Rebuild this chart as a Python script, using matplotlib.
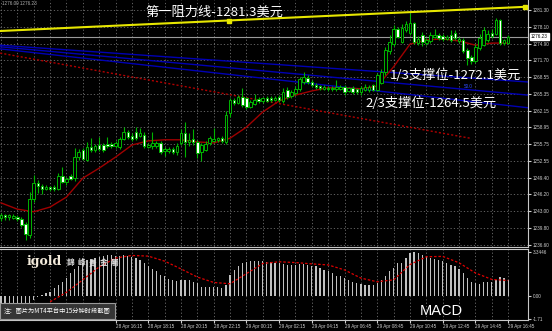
import numpy as np
import matplotlib.pyplot as plt
from matplotlib.transforms import blended_transform_factory

plt.rcParams["font.family"] = ["Noto Sans CJK SC", "DejaVu Sans"]

# 15-minute candles (oldest first)
opens = [
    1241.7, 1242.3, 1241.9, 1241.8, 1242.0, 1241.6, 1240.5, 1238.5, 1245.4, 1248.4,
    1247.8, 1247.3, 1247.6, 1247.7, 1247.2, 1249.7, 1248.6, 1249.8, 1249.3, 1253.3,
    1254.6, 1252.8, 1255.2, 1254.6, 1255.7, 1255.6, 1255.8, 1255.8, 1255.4, 1255.2,
    1256.7, 1258.1, 1257.4, 1258.1, 1257.4, 1257.6, 1255.3, 1255.4, 1255.5, 1256.0,
    1254.4, 1254.5, 1254.9, 1254.2, 1256.0, 1257.8, 1256.2, 1256.8, 1256.2, 1254.3,
    1254.6, 1256.0, 1256.4, 1256.5, 1256.9, 1256.1, 1261.7, 1264.2, 1263.6, 1264.8,
    1264.6, 1262.9, 1263.5, 1264.4, 1263.9, 1264.6, 1264.6, 1264.2, 1264.7, 1264.0,
    1266.1, 1264.9, 1265.5, 1266.3, 1267.6, 1268.4, 1267.6, 1267.1, 1266.8, 1266.3,
    1266.5, 1266.2, 1266.2, 1266.3, 1266.7, 1265.9, 1266.4, 1266.2, 1265.6, 1266.1,
    1266.0, 1267.0, 1266.0, 1267.4, 1269.5, 1273.5, 1274.9, 1277.7, 1275.3, 1277.5,
    1277.0, 1278.8, 1275.0, 1276.5, 1275.0, 1275.4, 1276.2, 1276.6, 1276.4, 1275.8,
    1276.5, 1276.9, 1275.4, 1275.5, 1273.7, 1272.3, 1271.5, 1274.0, 1274.7, 1275.5,
    1277.0, 1276.8, 1279.3, 1275.0, 1275.1,
]
highs = [
    1242.6, 1242.5, 1242.5, 1242.4, 1242.3, 1242.0, 1241.0, 1246.7, 1249.9, 1249.0,
    1248.1, 1248.0, 1247.9, 1248.0, 1250.3, 1251.4, 1249.5, 1250.1, 1255.1, 1254.8,
    1255.0, 1256.2, 1256.9, 1255.8, 1257.2, 1256.0, 1257.1, 1256.2, 1256.3, 1257.2,
    1259.0, 1258.4, 1257.8, 1259.0, 1258.9, 1258.0, 1256.0, 1258.0, 1256.3, 1256.3,
    1255.2, 1255.3, 1255.2, 1256.0, 1258.7, 1260.0, 1257.8, 1258.7, 1256.5, 1256.0,
    1256.4, 1257.4, 1258.8, 1257.2, 1257.3, 1262.0, 1264.6, 1264.6, 1265.1, 1266.5,
    1264.8, 1264.1, 1265.4, 1264.7, 1264.8, 1265.0, 1265.0, 1265.0, 1265.1, 1266.5,
    1266.6, 1266.1, 1266.8, 1268.5, 1269.5, 1268.9, 1268.0, 1267.4, 1267.1, 1267.0,
    1266.8, 1266.8, 1268.0, 1267.0, 1267.0, 1266.7, 1266.8, 1266.5, 1266.8, 1267.2,
    1267.0, 1267.3, 1269.3, 1270.0, 1274.3, 1276.5, 1278.4, 1278.0, 1278.6, 1279.2,
    1280.7, 1279.0, 1276.3, 1277.1, 1276.0, 1277.2, 1277.6, 1276.9, 1276.7, 1276.5,
    1277.5, 1277.5, 1276.1, 1276.0, 1274.0, 1272.8, 1274.8, 1276.8, 1278.0, 1277.5,
    1277.6, 1279.8, 1279.6, 1275.8, 1276.6,
]
lows = [
    1241.2, 1241.4, 1241.3, 1241.5, 1241.2, 1240.0, 1237.6, 1238.0, 1244.8, 1246.5,
    1246.3, 1247.0, 1246.8, 1246.9, 1247.0, 1248.3, 1248.0, 1248.9, 1248.8, 1252.8,
    1252.8, 1252.5, 1254.3, 1254.2, 1254.5, 1254.2, 1255.1, 1255.0, 1255.0, 1254.8,
    1256.5, 1256.8, 1256.3, 1256.6, 1257.1, 1255.0, 1255.0, 1254.8, 1255.1, 1253.9,
    1253.6, 1254.1, 1253.9, 1253.8, 1255.6, 1253.3, 1255.5, 1255.7, 1253.2, 1252.6,
    1254.4, 1255.7, 1256.2, 1256.2, 1256.0, 1255.8, 1261.0, 1263.2, 1263.4, 1262.8,
    1262.5, 1262.6, 1263.2, 1263.6, 1263.6, 1263.7, 1263.8, 1263.9, 1263.8, 1263.6,
    1264.4, 1264.5, 1265.2, 1265.9, 1267.2, 1267.2, 1266.6, 1266.2, 1266.1, 1266.0,
    1265.9, 1265.9, 1265.8, 1266.0, 1265.2, 1265.6, 1265.3, 1265.3, 1265.2, 1265.8,
    1265.7, 1265.8, 1265.8, 1267.2, 1269.0, 1273.0, 1274.5, 1275.9, 1275.0, 1277.2,
    1276.6, 1274.9, 1274.6, 1274.5, 1274.7, 1275.1, 1275.9, 1275.5, 1275.4, 1275.5,
    1275.2, 1275.6, 1275.0, 1273.2, 1270.9, 1271.0, 1271.2, 1273.6, 1274.4, 1275.2,
    1275.9, 1276.5, 1274.7, 1274.7, 1274.8,
]
closes = [
    1242.3, 1241.9, 1242.2, 1242.1, 1241.6, 1240.4, 1238.6, 1245.4, 1248.4, 1247.8,
    1247.3, 1247.6, 1247.2, 1247.3, 1249.7, 1248.6, 1249.2, 1249.2, 1253.3, 1254.3,
    1253.0, 1255.2, 1254.6, 1255.4, 1254.8, 1254.7, 1255.4, 1255.4, 1255.9, 1256.8,
    1258.0, 1257.2, 1256.7, 1257.0, 1257.9, 1255.5, 1255.6, 1255.9, 1256.0, 1254.3,
    1254.8, 1254.9, 1254.3, 1255.5, 1257.8, 1256.2, 1256.6, 1256.2, 1254.1, 1255.6,
    1255.8, 1256.9, 1256.8, 1256.9, 1256.4, 1261.4, 1264.2, 1263.6, 1264.8, 1263.2,
    1262.8, 1263.8, 1264.2, 1263.9, 1264.5, 1264.0, 1264.2, 1264.6, 1264.2, 1265.6,
    1264.8, 1265.7, 1266.2, 1268.2, 1268.6, 1267.6, 1267.0, 1266.6, 1266.4, 1266.7,
    1266.2, 1266.5, 1266.7, 1266.7, 1265.6, 1266.4, 1265.6, 1265.6, 1266.4, 1266.6,
    1266.6, 1266.1, 1268.9, 1269.5, 1273.7, 1275.3, 1277.7, 1276.2, 1277.9, 1278.6,
    1278.8, 1275.2, 1275.8, 1275.2, 1275.6, 1276.6, 1276.6, 1275.9, 1275.7, 1276.2,
    1275.5, 1275.9, 1275.8, 1273.5, 1272.2, 1271.5, 1274.3, 1276.0, 1277.5, 1276.8,
    1276.3, 1279.3, 1275.0, 1275.5, 1276.23,
]

# moving average (dark red), read every 4 bars
ma_bars = list(range(0, 125, 4))
ma_values = [
    1244.6, 1243.4, 1242.9, 1243.8, 1245.7, 1249.3, 1251.2, 1253.3, 1255.6, 1256.4,
    1256.6, 1256.6, 1256.2, 1256.0, 1256.9, 1259.0, 1261.9, 1264.0, 1265.1, 1265.9,
    1266.5, 1266.5, 1266.3, 1266.8, 1270.5, 1274.8, 1275.6, 1275.8, 1275.4, 1274.6,
    1275.0, 1275.0,
]

# MACD histogram and signal line
macd_hist = [
    -0.60, -0.60, -0.65, -0.65, -0.70, -0.75, -0.90, -0.60, -0.30, -0.10,
    0.05, 0.20, 0.33, 0.59, 0.85, 1.10, 1.36, 1.75, 2.06, 2.26,
    2.52, 2.73, 2.83, 2.91, 2.98, 3.03, 3.08, 3.08, 3.03, 3.03,
    3.08, 3.03, 2.98, 2.91, 2.73, 2.52, 2.31, 2.06, 1.88, 1.62,
    1.49, 1.29, 1.18, 1.16, 1.21, 1.23, 1.23, 1.10, 0.98, 0.72,
    0.67, 0.67, 0.67, 0.67, 0.59, 0.85, 1.62, 1.95, 2.26, 2.52,
    2.60, 2.65, 2.65, 2.65, 2.65, 2.60, 2.60, 2.52, 2.52, 2.44,
    2.39, 2.39, 2.39, 2.44, 2.44, 2.39, 2.31, 2.26, 2.13, 2.00,
    1.88, 1.75, 1.54, 1.49, 1.36, 1.23, 1.10, 0.98, 0.93, 0.85,
    0.85, 0.85, 0.98, 1.23, 1.49, 1.88, 2.13, 2.52, 2.52, 2.91,
    3.29, 3.34, 3.29, 3.08, 3.03, 2.91, 2.78, 2.73, 2.65, 2.52,
    2.39, 2.26, 2.06, 1.75, 1.36, 1.10, 0.98, 0.93, 1.03, 1.10,
    1.10, 1.23, 1.44, 1.36, 1.23,
]
signal_bars = list(range(12, 125, 4))
signal_values = [
    -0.44, 0.28, 1.23, 2.21, 2.88, 3.08, 3.03, 2.65, 2.06, 1.44,
    1.03, 0.93, 1.70, 2.47, 2.60, 2.54, 2.44, 2.36, 1.98, 1.36,
    1.08, 1.23, 2.39, 2.98, 3.01, 2.52, 1.75, 1.26, 1.18,
]

price_ticks = [1281.30, 1278.10, 1274.90, 1271.70, 1268.55, 1265.35, 1262.15, 1258.95,
               1255.75, 1252.55, 1249.40, 1246.20, 1243.00, 1239.80, 1236.60]
macd_ticks = [3.3446, 0.0, -1.71]
macd_tick_labels = ["3.3446", "0.00", "-1.71"]
time_label_bars = [28, 36, 44, 52, 60, 68, 76, 84, 92, 100, 108, 116, 124]
time_labels = ["28 Apr 16:15", "28 Apr 18:15", "28 Apr 20:15", "28 Apr 22:15",
               "29 Apr 00:15", "29 Apr 02:15", "29 Apr 04:15", "29 Apr 06:45",
               "29 Apr 08:45", "29 Apr 10:45", "29 Apr 12:45", "29 Apr 14:45",
               "29 Apr 16:45"]
last_price = 1276.23
logo_chars = ["錦", "峰", "貴", "金", "屬"]

# drawn objects (bar index, price)
resist_bars = [-0.24, 128.1]
resist_prices = [1277.3, 1281.9]
resist_anchor_bars = [55.7, 128.1]
resist_anchor_prices = [1279.2, 1281.9]
fan_bars = [-0.24, 128.85]
fan_a = [1274.6, 1267.6]
fan_b = [1274.3, 1265.1]
fan_c = [1273.9, 1262.7]
channel_bars = [-0.2, 114.7]
channel_prices = [1273.1, 1256.9]

W, H = 552, 331
GREEN = "#00b400"
GRID = "#707070"
AXIS = "#c8c8c8"
SMALL = ["Liberation Sans", "DejaVu Sans"]
SMALL_SIZE = 3.3


def fx(x):
    return x / W


def fy(y):
    return 1 - y / H


fig = plt.figure(figsize=(W / 100, H / 100), dpi=100, facecolor="black")
ax = fig.add_axes([0, (H - 247) / H, 528 / W, 247 / H], facecolor="black")
axm = fig.add_axes([0, (H - 320) / H, 528 / W, 71 / H], facecolor="black")

idx = np.arange(len(closes))
o = np.array(opens)
c = np.array(closes)
up = c >= o

# main chart
ax.axhline(last_price, color="#9a9a9a", lw=0.8, zorder=1)
ax.plot(fan_bars, fan_a, color="#0000b4", lw=1, zorder=2)
ax.plot(fan_bars, fan_b, color="#0000b4", lw=1, zorder=2)
ax.plot(fan_bars, fan_c, color="#0000b4", lw=1, zorder=2)
ax.plot(channel_bars, channel_prices, color="#b00000", lw=1, ls=(0, (1.5, 1.5)), zorder=2)
ax.plot(resist_bars, resist_prices, color="#e6e600", lw=1.5, zorder=3)
ax.plot(resist_anchor_bars, resist_anchor_prices, ls="none", marker="s", ms=2.5,
        color="#e6e600", zorder=3)
ax.plot(ma_bars, ma_values, color="#a00000", lw=1, zorder=3)

ax.vlines(idx, lows, highs, color=GREEN, lw=0.8, zorder=4)
ax.bar(idx[up], (c - o)[up], bottom=o[up], width=0.62, color="black",
       edgecolor=GREEN, lw=0.7, zorder=5)
ax.bar(idx[~up], (o - c)[~up], bottom=c[~up], width=0.62, color="white",
       edgecolor=GREEN, lw=0.7, zorder=5)

ax.set_xlim(-0.244, 128.85)
ax.set_ylim(1236.2, 1283.2)
ax.yaxis.tick_right()
ax.set_yticks(price_ticks)
ax.set_yticklabels([f"{p:.2f}" for p in price_ticks], family=SMALL)
ax.tick_params(axis="y", labelsize=SMALL_SIZE, colors="#d0d0d0", length=2, pad=1.5)
ax.set_xticks(np.arange(0, 125, 4))
ax.tick_params(axis="x", bottom=False, labelbottom=False)
ax.grid(True, color=GRID, ls=(0, (1.5, 2.5)), lw=0.6)
ax.set_axisbelow(True)
for side in ["left", "top"]:
    ax.spines[side].set_visible(False)
for side in ["right", "bottom"]:
    ax.spines[side].set_color(AXIS)
    ax.spines[side].set_linewidth(0.8)

trans = blended_transform_factory(ax.transAxes, ax.transData)
ax.text(1.006, last_price, f"{last_price:.2f}", transform=trans, fontsize=SMALL_SIZE,
        color="black", va="center", ha="left", family=SMALL,
        bbox=dict(boxstyle="square,pad=0.2", fc="white", ec="white"))

# MACD panel
axm.bar(idx, macd_hist, width=0.3, color="#c0c0c0", zorder=3)
axm.plot(signal_bars, signal_values, color="#e00000", lw=0.9, ls=(0, (2, 1.5)), zorder=4)
axm.set_xlim(-0.244, 128.85)
axm.set_ylim(-1.82, 3.57)
axm.yaxis.tick_right()
axm.set_yticks(macd_ticks)
axm.set_yticklabels(macd_tick_labels, family=SMALL)
axm.tick_params(axis="y", labelsize=SMALL_SIZE, colors="#d0d0d0", length=2, pad=1.5)
axm.set_xticks(time_label_bars)
axm.set_xticklabels(time_labels, family=SMALL)
axm.set_xticks(np.arange(0, 125, 4), minor=True)
axm.tick_params(axis="x", labelsize=SMALL_SIZE, colors="#d0d0d0", length=2, pad=1.2)
axm.tick_params(axis="x", which="minor", length=0)
for lbl in axm.get_xticklabels():
    lbl.set_horizontalalignment("left")
axm.grid(True, which="both", axis="x", color=GRID, ls=(0, (1.5, 2.5)), lw=0.6)
axm.set_axisbelow(True)
axm.spines["left"].set_visible(False)
for side in ["right", "bottom", "top"]:
    axm.spines[side].set_color(AXIS)
    axm.spines[side].set_linewidth(0.8)

# annotations
fig.text(fx(2), fy(3.5), "1276.00 1276.23", fontsize=3.3, color="#b0b0b0",
         ha="left", va="center", family=SMALL)
fig.text(fx(145), fy(12), "第一阻力线-1281.3美元", color="white", fontsize=9.5,
         va="center", ha="left")
fig.text(fx(390), fy(75), "1/3支撑位-1272.1美元", color="white", fontsize=9.5,
         va="center", ha="left")
fig.text(fx(365), fy(103), "2/3支撑位-1264.5美元", color="white", fontsize=9.5,
         va="center", ha="left")
fig.text(fx(464), fy(86), "50.0", color="#3050ff", fontsize=3.3, va="center",
         family=SMALL)
fig.text(fx(420), fy(311), "MACD", color="white", fontsize=10.5, va="center",
         family=SMALL)
fig.text(fx(27), fy(261), "igold", color="#f4ecdc", fontsize=9, va="center",
         family="DejaVu Serif", weight="bold")
for k, ch in enumerate(logo_chars):
    fig.text(fx(67 + 11 * k), fy(263), ch, color="#e0e0e0", fontsize=5.5,
             va="center", weight="bold")
fig.text(fx(4), fy(311), "注：图片为MT4平台中15分钟时段截图", color="white", fontsize=4.5,
         va="center", ha="left",
         bbox=dict(boxstyle="square,pad=0.6", fc="#353535", ec="#9a9a9a", lw=0.8))

fig.savefig("out.png", dpi=100, facecolor="black")
